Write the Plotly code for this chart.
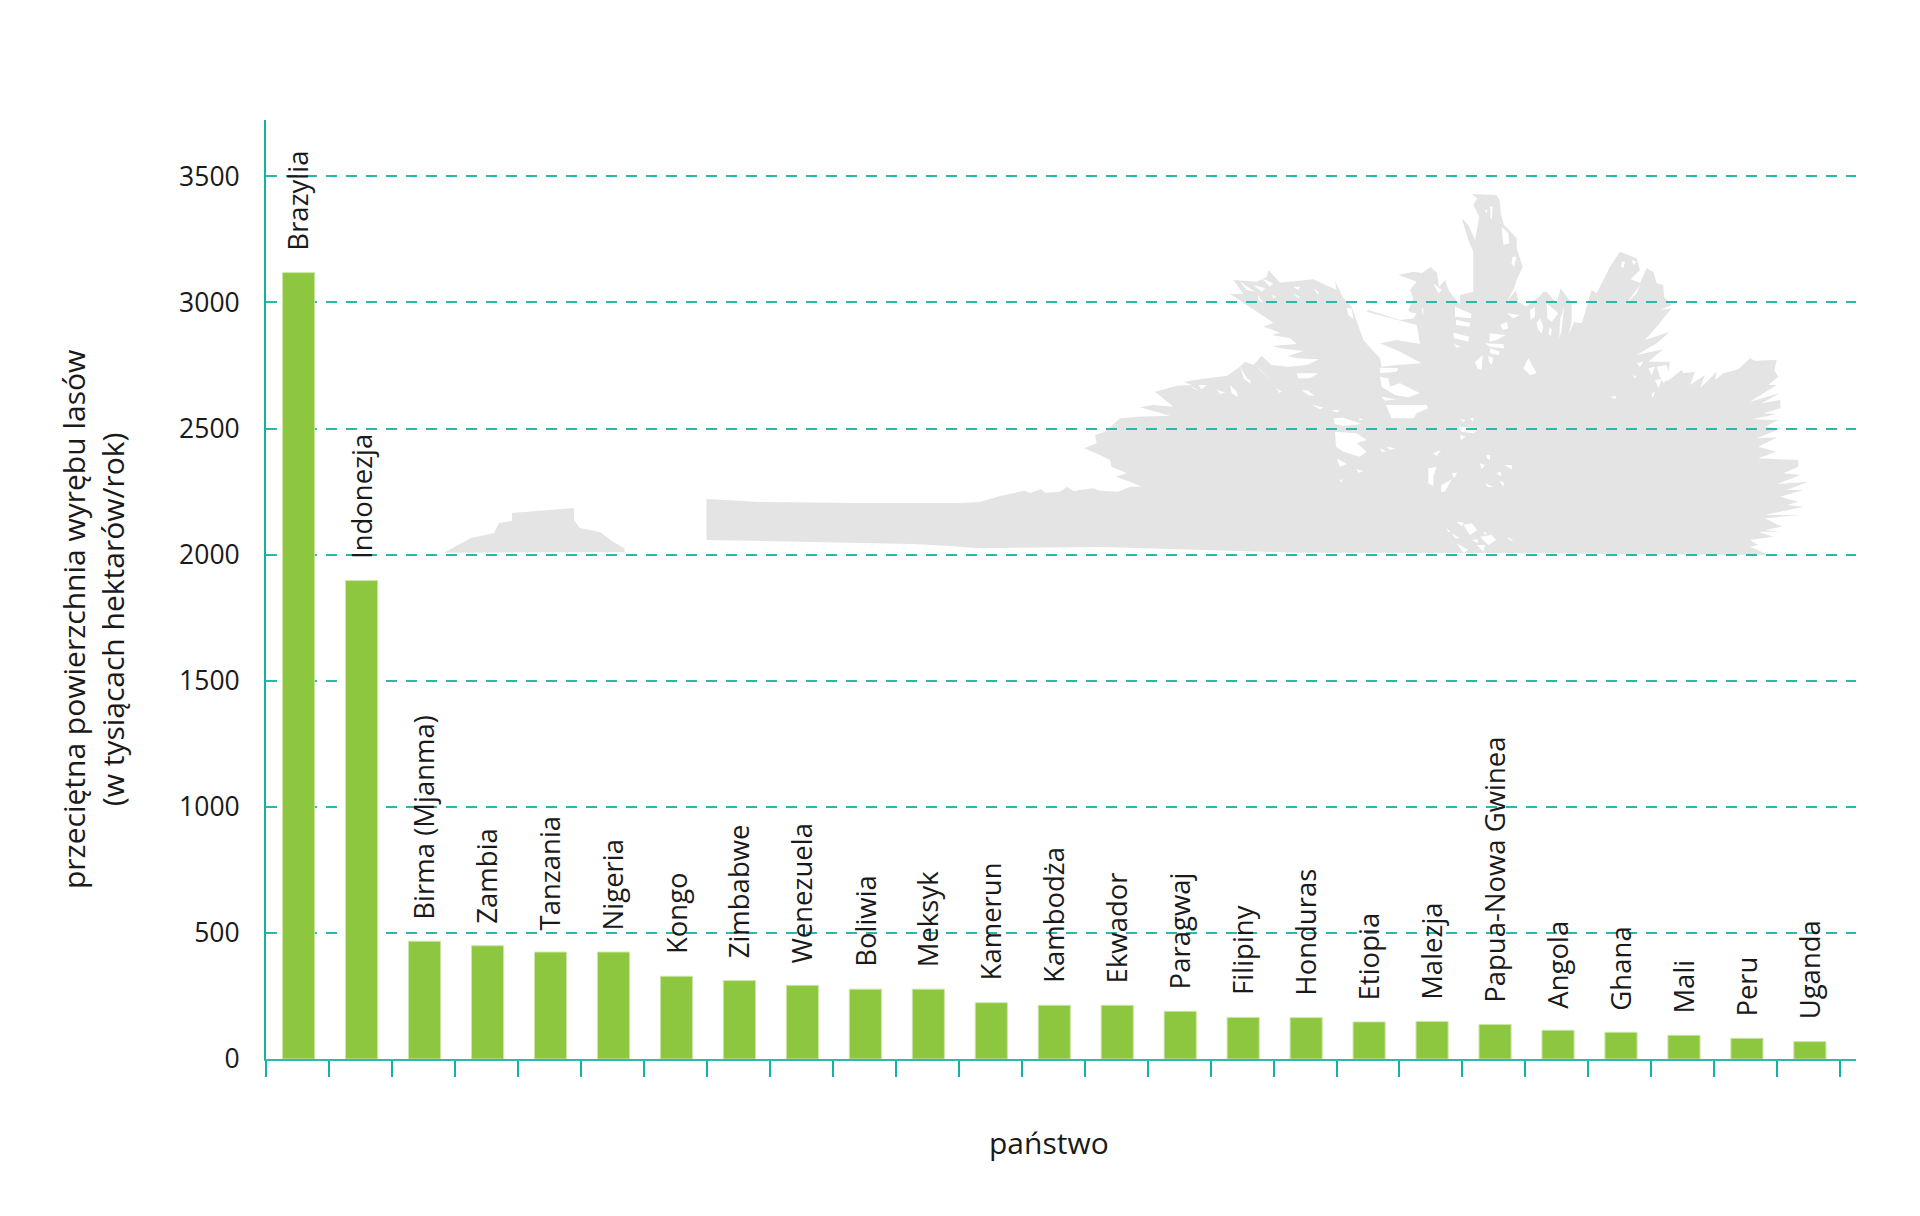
import plotly.graph_objects as go

# ---- data ----
countries = ["Brazylia", "Indonezja", "Birma (Mjanma)", "Zambia", "Tanzania", "Nigeria", "Kongo",
             "Zimbabwe", "Wenezuela", "Boliwia", "Meksyk", "Kamerun", "Kambodża", "Ekwador",
             "Paragwaj", "Filipiny", "Honduras", "Etiopia", "Malezja", "Papua-Nowa Gwinea",
             "Angola", "Ghana", "Mali", "Peru", "Uganda"]
deforestation = [3118, 1897, 467, 449, 424, 424, 328, 311, 292, 277, 277, 223, 213, 213,
                 189, 165, 164, 147, 149, 137, 114, 106, 94, 82, 69]
y_ticks = [0, 500, 1000, 1500, 2000, 2500, 3000, 3500]
y_title = "przeciętna powierzchnia wyrębu lasów<br>(w tysiącach hektarów/rok)"
x_title = "państwo"

# ---- layout constants ----
W, H = 1920, 1216
L, R, T, B = 266, 1856, 120, 1059
TEAL = "#12b3a5"
INK = "#1a1a1a"
FONT = "Open Sans"


def px(x):
    return (x - L) / (R - L)


def py(y):
    return (B - y) / (B - T)


def polygon(points):
    return "M " + " L ".join(f"{px(x):.5f},{py(y):.5f}" for x, y in points) + " Z"


def crop_a(points):
    return [(1080 + x / 3, 270 + y / 3) for x, y in points]


def crop_b(points):
    return [(1440 + x / 3, 190 + y / 3) for x, y in points]


# ---- background palm silhouette (decoration, traced in page pixels) ----
palm_crown = (
    [(980, 502), (1000, 496), (1024.7, 490.7), (1030, 493), (1041, 489), (1045, 492.7), (1060, 491.7),
     (1067, 487), (1074, 491.3)]
    + crop_a([
        (0, 660), (40, 655), (60, 662), (115, 665), (150, 650), (185, 650), (150, 635), (108, 620), (140, 610),
        (95, 590), (90, 570), (60, 555), (12, 535), (50, 520), (45, 495), (75, 485), (120, 445), (175, 440),
        (270, 437), (180, 412), (220, 405), (280, 410), (225, 365), (290, 347), (335, 345), (312, 335),
        (380, 325), (440, 318), (480, 290), (495, 275), (520, 285), (545, 258), (575, 285), (625, 290),
        (680, 285), (718, 268), (650, 265), (625, 258), (670, 243), (600, 235), (578, 228), (650, 222),
        (630, 205), (575, 195), (600, 188), (550, 170), (580, 158), (500, 105), (450, 72), (490, 72),
        (460, 30), (530, 35), (560, 20), (565, 0), (600, 38), (700, 28), (725, 40), (770, 60), (765, 32),
        (790, 85), (815, 110), (850, 210), (900, 265), (905, 290), (950, 285), (1025, 280), (960, 245),
        (900, 220), (950, 210), (1020, 222), (1010, 165), (860, 125), (865, 120), (960, 150), (1005, 145),
        (985, 120), (1000, 85), (990, 60), (1010, 35), (955, 15), (1000, 5),
    ])
    + [(1422, 273), (1430.5, 267), (1437, 273), (1439, 287), (1445, 280), (1449, 291), (1460, 305)]
    + crop_b([
        (60, 315), (100, 305), (100, 185), (85, 150), (65, 85), (85, 105), (105, 150), (118, 80), (100, 45),
        (112, 25), (95, 12), (170, 15), (180, 35), (182, 70), (192, 105), (230, 145), (230, 175), (248, 230),
        (230, 270), (222, 295), (200, 335), (228, 300), (235, 335), (258, 350), (300, 318), (310, 305),
        (320, 305), (350, 340), (362, 295), (395, 340), (395, 395), (425, 400), (455, 300), (470, 310),
        (510, 230), (540, 185), (590, 205), (600, 240), (572, 268), (600, 278), (620, 235), (640, 245),
        (650, 280), (670, 285), (672, 320), (695, 345), (660, 360), (695, 355), (650, 410), (615, 450),
        (690, 425), (650, 460), (590, 495), (670, 478), (625, 515), (690, 515), (680, 575), (725, 540),
        (730, 550), (765, 545), (750, 585), (795, 555), (780, 595), (830, 545), (825, 570), (850, 550),
        (895, 538), (930, 505), (945, 512), (1010, 510), (1003, 540), (1015, 560), (985, 585), (1010, 585),
        (930, 635), (1018, 610), (965, 640), (1020, 630), (1022, 655), (970, 670), (1012, 672), (935, 688),
        (1015, 690), (975, 710), (1025, 715), (950, 745), (1012, 742), (955, 770), (1008, 785), (955, 805),
        (1075, 810), (1075, 830), (1030, 850), (1080, 855), (1012, 882), (1105, 875), (1040, 900), (1090, 900),
        (1020, 920), (1075, 935), (1040, 945), (1092, 950), (975, 975), (1080, 975), (975, 985), (1025, 1010),
        (975, 1020), (1020, 1025), (955, 1025), (1000, 1040), (930, 1050), (955, 1065), (930, 1070), (975, 1090),
        (985, 1095),
    ])
    + [(1480, 553), (1300, 552.7), (1103, 547), (1000, 548), (975, 548), (950, 546), (912, 544),
       (706.5, 540), (706.5, 499), (760, 502), (860, 503), (960, 503)]
)

palm_holes = [crop_a(h) for h in [
    [(765, 485), (830, 490), (860, 510), (830, 520), (860, 545), (840, 560), (790, 545), (768, 530)],
    [(760, 445), (790, 443), (845, 462), (790, 468), (765, 462)],
    [(900, 293), (955, 295), (950, 305), (900, 310)],
    [(900, 320), (925, 325), (930, 350), (960, 340), (1020, 370), (985, 382), (945, 375), (905, 350)],
    [(905, 380), (950, 388), (915, 392)],
    [(918, 405), (1040, 405), (1045, 415), (1010, 430), (1000, 445), (935, 445)],
    [(695, 405), (730, 412), (720, 418)], [(755, 420), (780, 420), (770, 428)],
    [(665, 360), (685, 362), (703, 378), (685, 375)],
    [(525, 285), (575, 330), (545, 305)], [(480, 290), (510, 340), (490, 320)],
    [(485, 320), (510, 330), (512, 342)], [(450, 345), (470, 365), (475, 382), (455, 370)],
    [(410, 358), (435, 368), (420, 372)], [(330, 345), (360, 365), (340, 355)],
    [(355, 345), (380, 345), (365, 358)], [(590, 355), (605, 365), (597, 368)],
    [(1045, 595), (1070, 590), (1060, 620), (1060, 648), (1045, 640)],
    [(770, 565), (800, 582), (780, 590)], [(830, 598), (852, 603), (835, 608)],
    [(835, 445), (850, 447), (840, 452)], [(900, 535), (920, 545), (905, 545)],
    [(920, 530), (945, 535), (930, 540)], [(1060, 550), (1083, 540), (1070, 558)],
    [(780, 630), (788, 628), (783, 638)], [(650, 310), (715, 310), (690, 325), (655, 325)],
    [(700, 55), (715, 65), (715, 75)], [(800, 115), (815, 115), (820, 148), (805, 135)],
    [(640, 50), (660, 50), (655, 60)], [(640, 70), (660, 80), (655, 85)],
    [(575, 75), (590, 80), (580, 85)], [(535, 75), (550, 100), (535, 90)],
    [(520, 45), (555, 55), (545, 65)], [(480, 35), (525, 65), (500, 60)],
    [(545, 25), (580, 40), (570, 50)], [(975, 125), (1010, 130), (1000, 145)],
    [(1025, 115), (1030, 115), (1030, 140)], [(1060, 40), (1085, 60), (1075, 70)],
]] + [crop_b(h) for h in [
    [(45, 350), (95, 372), (92, 385), (45, 380)], [(48, 390), (90, 398), (88, 410), (48, 405)],
    [(40, 428), (88, 440), (85, 455), (42, 445)], [(42, 462), (62, 470), (50, 473)],
    [(135, 460), (190, 462), (192, 475), (150, 470)], [(150, 430), (198, 435), (170, 450), (148, 455)],
    [(150, 475), (180, 485), (175, 495), (150, 490)], [(145, 498), (160, 505), (155, 525), (147, 515)],
    [(105, 515), (128, 495), (125, 540), (112, 535)], [(180, 405), (200, 395), (205, 415), (190, 420)],
    [(200, 370), (240, 375), (220, 385)], [(250, 535), (265, 505), (290, 550), (270, 555)],
    [(290, 400), (300, 385), (310, 410), (305, 430), (295, 420)], [(330, 410), (335, 420), (332, 440), (326, 430)],
    [(270, 360), (285, 350), (285, 380), (272, 390)], [(320, 340), (355, 370), (335, 395), (322, 385)],
    [(360, 390), (372, 350), (365, 420), (358, 445)], [(385, 435), (402, 370), (405, 390)],
    [(185, 110), (205, 130), (208, 160), (190, 165)], [(135, 60), (142, 60), (140, 70)],
    [(150, 50), (158, 50), (155, 90), (152, 85)], [(218, 200), (230, 200), (222, 230), (215, 220)],
    [(545, 215), (555, 215), (550, 235), (543, 230)], [(575, 210), (590, 215), (580, 225)],
    [(560, 340), (600, 285), (590, 310)], [(60, 688), (78, 690), (70, 695)], [(90, 685), (102, 685), (98, 695)],
    [(55, 710), (118, 715), (100, 730), (65, 725)], [(60, 735), (78, 740), (63, 750)],
    [(140, 795), (150, 795), (150, 810), (140, 805)], [(120, 820), (135, 825), (125, 838)],
    [(192, 825), (215, 825), (215, 838)], [(170, 850), (182, 845), (184, 860)],
    [(178, 872), (192, 878), (190, 890)], [(135, 880), (160, 890), (145, 892)], [(35, 850), (52, 848), (42, 865)],
    [(5, 885), (35, 868), (15, 905), (3, 905)], [(50, 995), (72, 998), (65, 1008)],
    [(70, 1005), (95, 1000), (112, 1020), (90, 1035)], [(18, 1015), (33, 1025), (25, 1025)],
    [(35, 1030), (60, 1045), (45, 1045)], [(120, 1040), (155, 1035), (168, 1050), (145, 1065)],
    [(95, 1050), (112, 1048), (115, 1060)], [(50, 1060), (85, 1080), (70, 1088)],
    [(110, 1065), (135, 1065), (130, 1085)], [(200, 1040), (220, 1050), (212, 1052)],
    [(130, 1025), (140, 1030), (135, 1035)], [(510, 620), (530, 618), (525, 627)],
    [(580, 555), (590, 560), (583, 565)], [(590, 520), (610, 515), (600, 530)],
    [(625, 535), (645, 530), (635, 555)], [(650, 530), (680, 525), (690, 560), (670, 580), (660, 560)],
    [(645, 570), (665, 568), (655, 595)], [(635, 610), (645, 605), (637, 625)],
]]

palm_hill = [(444, 552.7), (471, 538), (494, 533), (499, 523), (512, 521), (512, 513), (574, 508),
             (574, 520), (580, 528), (600, 532), (612, 541), (624.5, 548.6), (624.5, 552)]

shapes = [dict(type="path", xref="paper", yref="paper", layer="below", path=polygon(p),
               fillcolor="#e4e4e4", line=dict(width=0)) for p in (palm_hill, palm_crown)]
shapes += [dict(type="path", xref="paper", yref="paper", layer="below", path=polygon(p),
                fillcolor="white", line=dict(width=0)) for p in palm_holes]

# ---- figure ----
fig = go.Figure(go.Bar(x=countries, y=deforestation, width=0.51, offset=-0.237,
                       marker=dict(color="#8dc63f", line=dict(color="#cde5a8", width=1)),
                       hoverinfo="x+y"))

annotations = [dict(x=c, y=v, text=c, textangle=-90, showarrow=False, xanchor="center", yanchor="bottom",
                    yshift=20, xshift=0.5, font=dict(family=FONT, size=27.5, color=INK))
               for c, v in zip(countries, deforestation)]
annotations += [
    dict(xref="paper", yref="paper", x=px(93), y=py(620), text=y_title, textangle=-90, showarrow=False,
         xanchor="center", yanchor="middle", font=dict(family=FONT, size=30, color=INK)),
    dict(xref="paper", yref="paper", x=px(1049), y=py(1142), text=x_title, showarrow=False,
         xanchor="center", yanchor="middle", font=dict(family=FONT, size=30, color=INK)),
]

fig.update_layout(
    width=W, height=H, margin=dict(l=L, r=W - R, t=T, b=H - B, pad=0),
    paper_bgcolor="white", plot_bgcolor="white", showlegend=False,
    font=dict(family=FONT, size=26.5, color=INK),
    shapes=shapes, annotations=annotations,
    xaxis=dict(type="category", categoryorder="array", categoryarray=countries,
               range=[-0.5, 24.75], showticklabels=False, showgrid=False, zeroline=False,
               showline=True, linecolor="#2fb9ab", linewidth=2, ticks="outside", tickson="boundaries",
               ticklen=16, tickwidth=2, tickcolor=TEAL),
    yaxis=dict(range=[0, (B - T) / 0.2522], tickmode="array", tickvals=y_ticks, ticks="",
               ticklabelstandoff=19, showgrid=True, griddash="11px,9px", gridcolor="#2cb7a9", gridwidth=1.5,
               zeroline=False, showline=True, linecolor=TEAL, linewidth=2,
               tickfont=dict(family=FONT, size=26.5, color=INK)),
)

fig.write_html("out.html", config=dict(displayModeBar=False), post_script="document.body.style.margin='0';")
